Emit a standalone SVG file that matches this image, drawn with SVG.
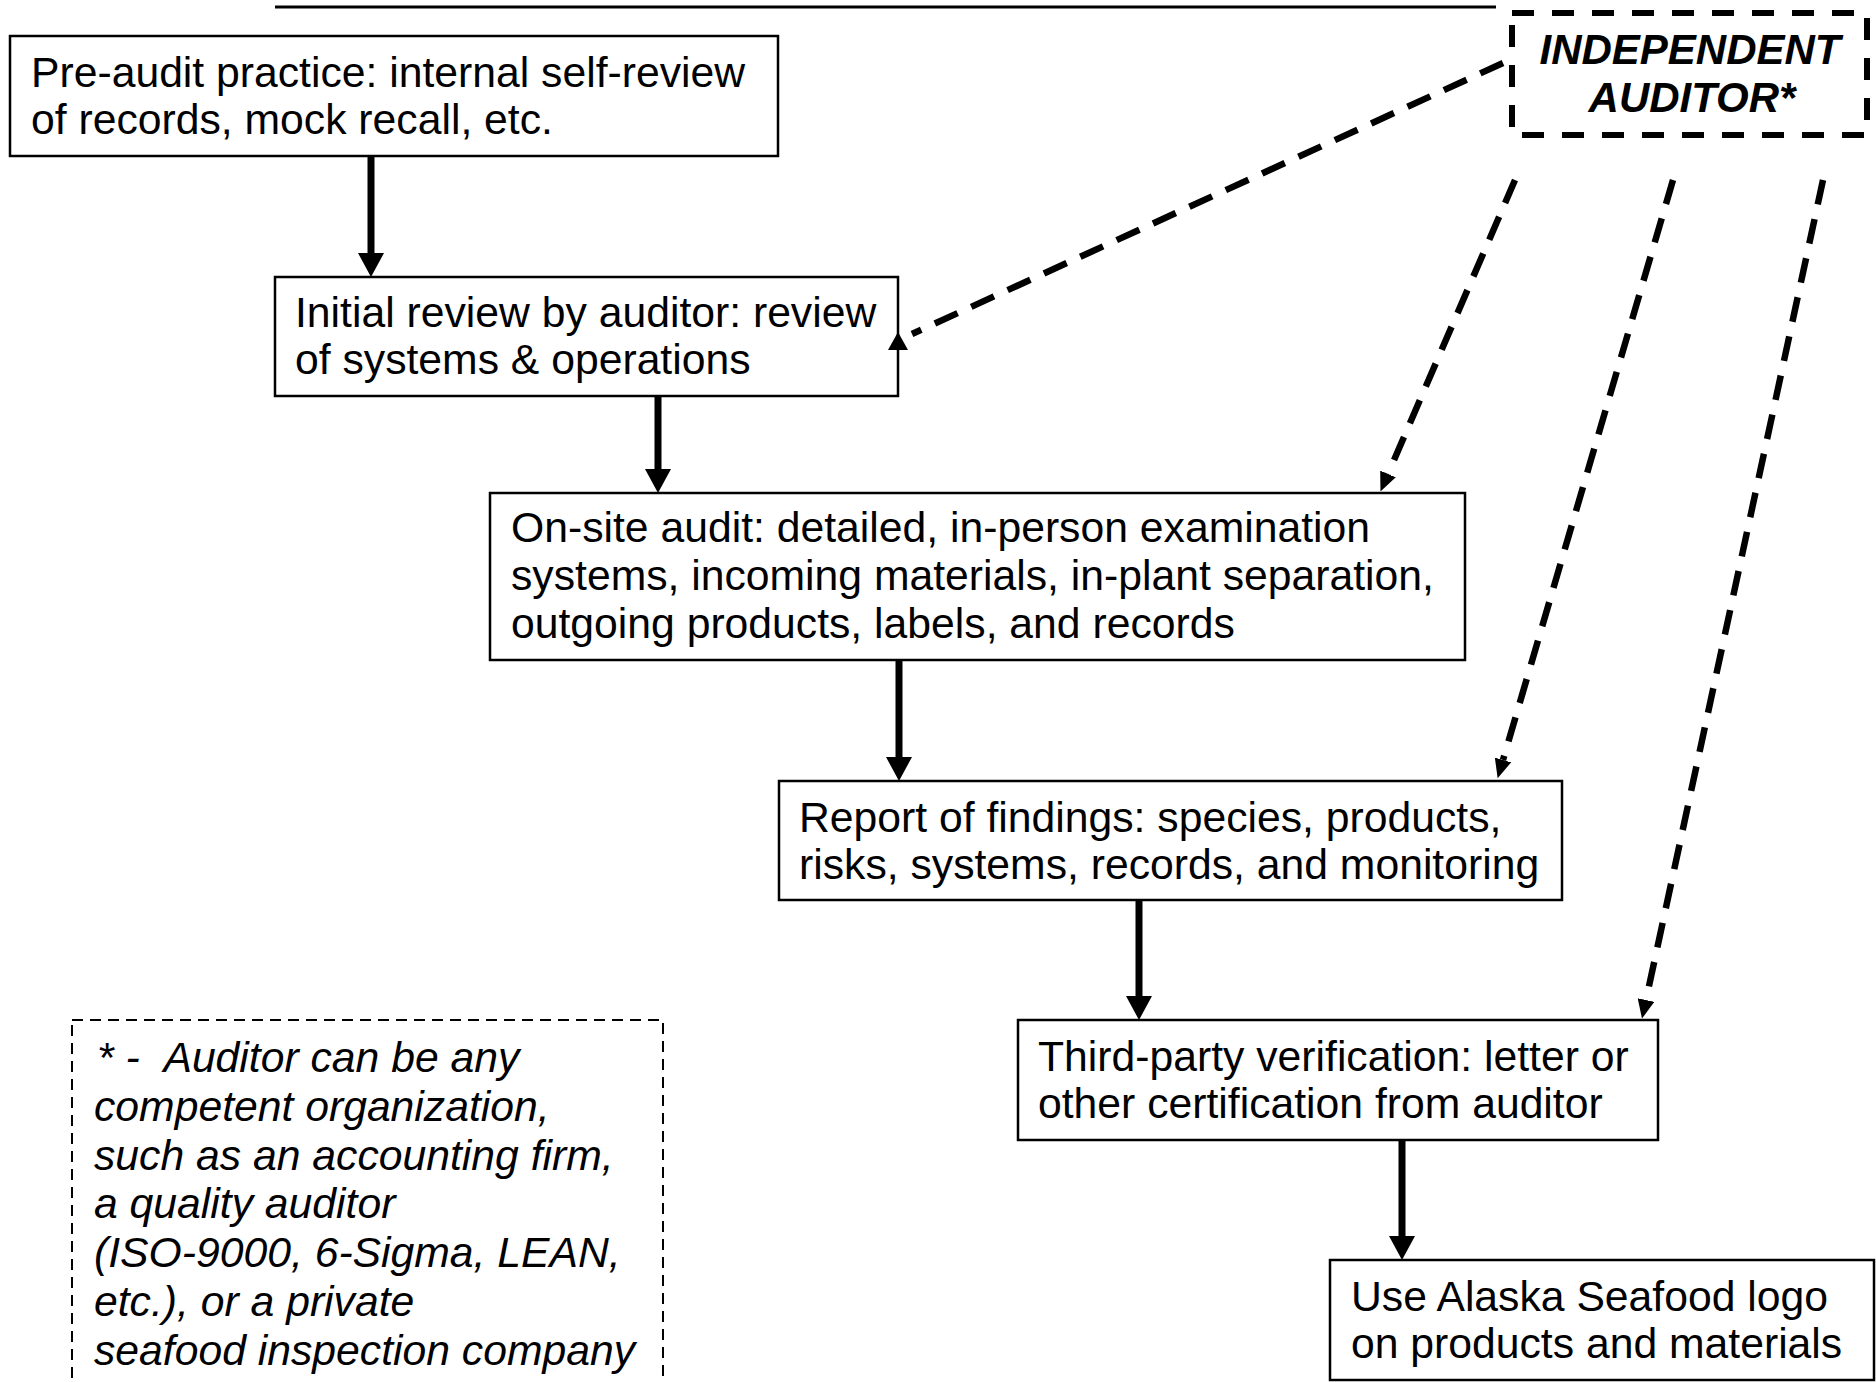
<svg xmlns="http://www.w3.org/2000/svg" width="1876" height="1382" viewBox="0 0 1876 1382">
<defs>
<style>
.box{fill:#fff;stroke:#000;stroke-width:2.5}
.t{font-family:"Liberation Sans",Arial,Helvetica,sans-serif;font-size:42.7px;fill:#000}
.it{font-style:italic}
.bi{font-style:italic;font-weight:bold;font-size:42px}
.solid{stroke:#000;stroke-width:7;fill:none}
.dash{stroke:#000;stroke-width:6.5;fill:none;stroke-dasharray:25 15}
</style>
<marker id="ah" viewBox="0 0 24 26" refX="0" refY="13" markerWidth="24" markerHeight="26" markerUnits="userSpaceOnUse" orient="auto">
<path d="M0,0 L24,13 L0,26 Z" fill="#000"/>
</marker>
<marker id="ahs" viewBox="0 0 19 17" refX="0" refY="8.5" markerWidth="19" markerHeight="17" markerUnits="userSpaceOnUse" orient="auto">
<path d="M0,0 L19,8.5 L0,17 Z" fill="#000"/>
</marker>
</defs>
<rect width="1876" height="1382" fill="#fff"/>
<line x1="275" y1="7" x2="1496" y2="7" stroke="#000" stroke-width="3"/>

<g id="pre-audit">
<rect class="box" x="10" y="36" width="768" height="120"/>
<text class="t" x="31" y="87">Pre-audit practice: internal self-review</text>
<text class="t" x="31" y="134">of records, mock recall, etc.</text>
</g>
<g id="initial-review">
<rect class="box" x="275" y="277" width="623" height="119"/>
<text class="t" x="295" y="327">Initial review by auditor: review</text>
<text class="t" x="295" y="374">of systems &amp; operations</text>
</g>
<g id="on-site-audit">
<rect class="box" x="490" y="493" width="975" height="167"/>
<text class="t" x="511" y="542">On-site audit: detailed, in-person examination</text>
<text class="t" x="511" y="590">systems, incoming materials, in-plant separation,</text>
<text class="t" x="511" y="638">outgoing products, labels, and records</text>
</g>
<g id="report">
<rect class="box" x="779" y="781" width="783" height="119"/>
<text class="t" x="799" y="832">Report of findings: species, products,</text>
<text class="t" x="799" y="879">risks, systems, records, and monitoring</text>
</g>
<g id="verification">
<rect class="box" x="1018" y="1020" width="640" height="120"/>
<text class="t" x="1038" y="1071">Third-party verification: letter or</text>
<text class="t" x="1038" y="1118">other certification from auditor</text>
</g>
<g id="logo">
<rect class="box" x="1330" y="1260" width="544" height="120"/>
<text class="t" x="1351" y="1311">Use Alaska Seafood logo</text>
<text class="t" x="1351" y="1358">on products and materials</text>
</g>
<g id="independent-auditor">
<rect x="1512" y="13" width="355" height="122" fill="#fff" stroke="#000" stroke-width="6" stroke-dasharray="22 18"/>
<text class="t bi" x="1690" y="64" text-anchor="middle">INDEPENDENT</text>
<text class="t bi" x="1692" y="112" text-anchor="middle">AUDITOR*</text>
</g>
<g id="footnote">
<rect x="72" y="1020" width="591" height="380" fill="#fff" stroke="#000" stroke-width="2" stroke-dasharray="11 7"/>
<text class="t it" x="97" y="1072">*&#160;-&#160;&#160;Auditor can be any</text>
<text class="t it" x="94" y="1121">competent organization,</text>
<text class="t it" x="94" y="1170">such as an accounting firm,</text>
<text class="t it" x="94" y="1218">a quality auditor</text>
<text class="t it" x="94" y="1267">(ISO-9000, 6-Sigma, LEAN,</text>
<text class="t it" x="94" y="1316">etc.), or a private</text>
<text class="t it" x="94" y="1365">seafood inspection company</text>
</g>

<g id="connectors">
<path class="solid" d="M371,156 L371,253" marker-end="url(#ah)"/>
<path class="solid" d="M658,396 L658,469" marker-end="url(#ah)"/>
<path class="solid" d="M899,660 L899,757" marker-end="url(#ah)"/>
<path class="solid" d="M1139,900 L1139,996" marker-end="url(#ah)"/>
<path class="solid" d="M1402,1140 L1402,1236" marker-end="url(#ah)"/>
<path class="dash" d="M1503,63 L912,334"/>
<polygon points="898,332 888,350 908,350" fill="#000"/>
<path class="dash" d="M1515,180 L1388,474" marker-end="url(#ahs)"/>
<path class="dash" d="M1673,180 L1503,760" marker-end="url(#ahs)"/>
<path class="dash" d="M1823,180 L1646,1000" marker-end="url(#ahs)"/>
</g>
</svg>
